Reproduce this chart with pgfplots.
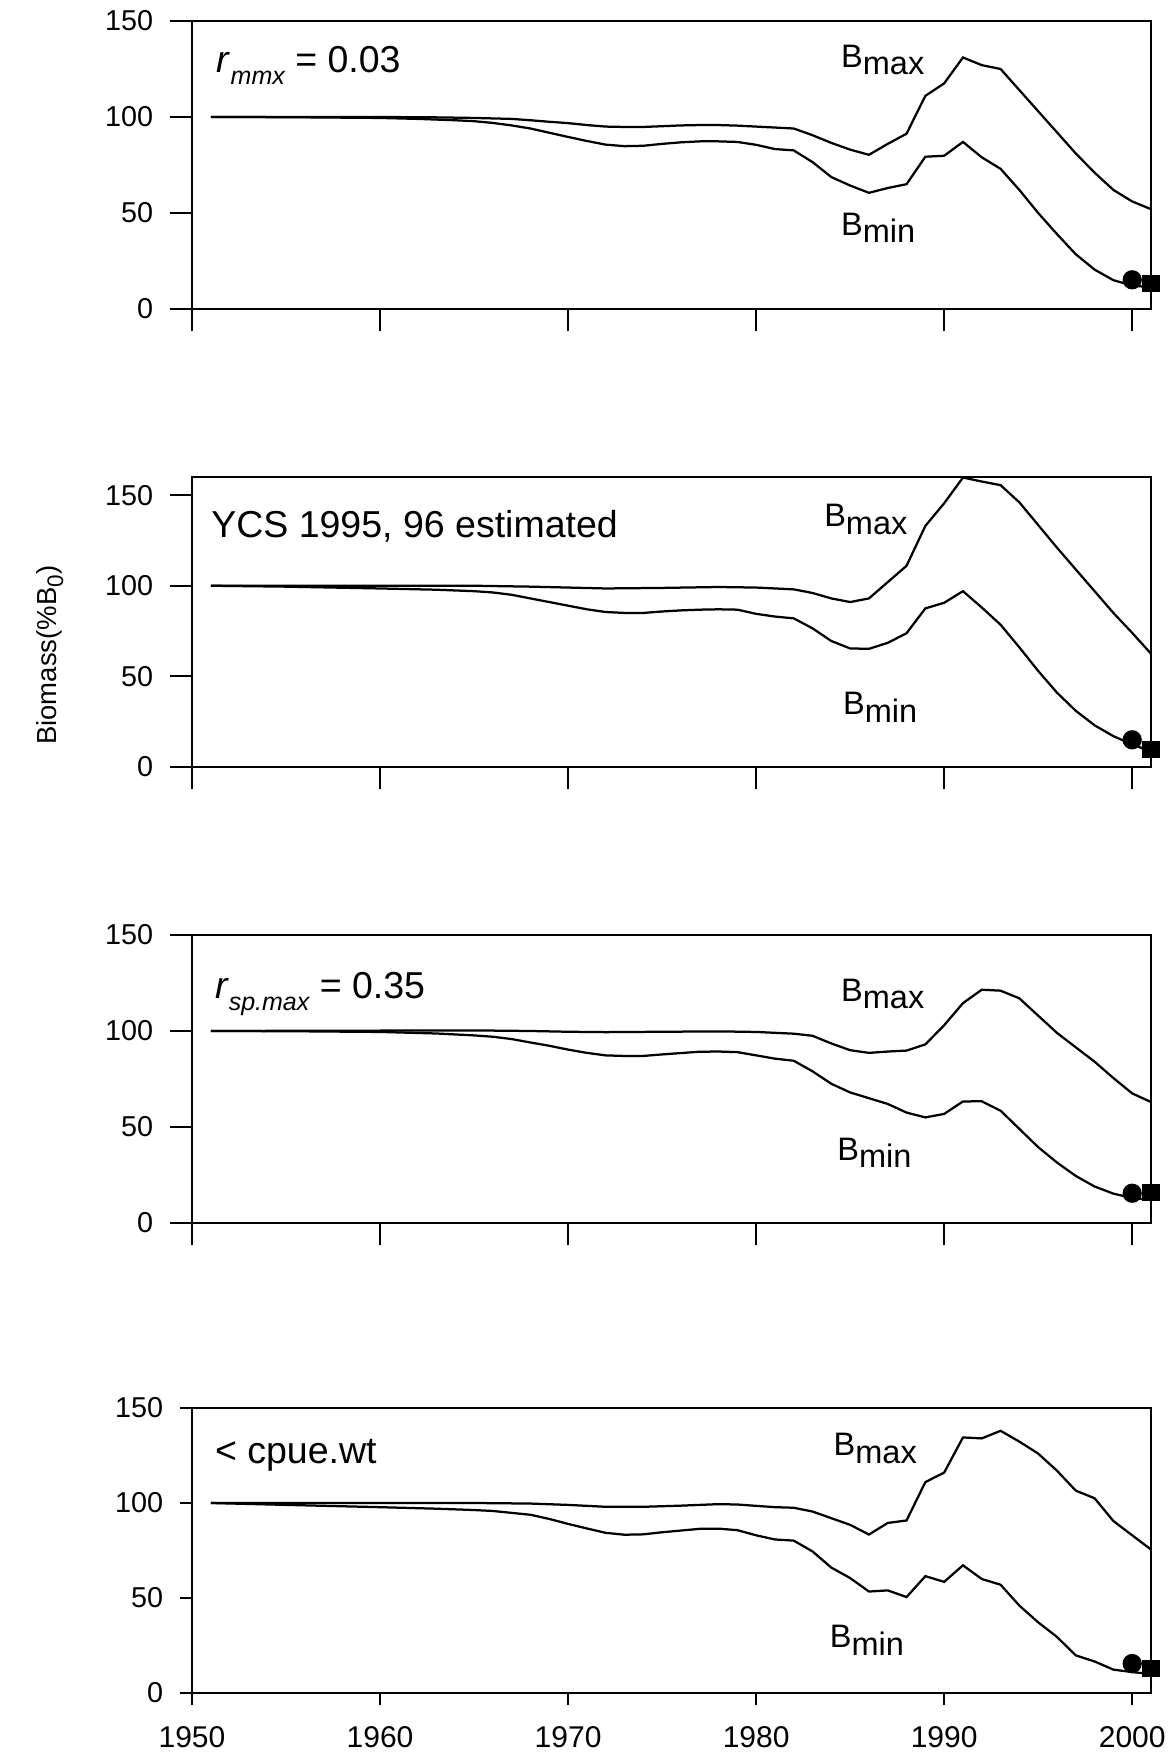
\documentclass[border=0pt]{standalone}
\usepackage{fontspec}
\setmainfont{Liberation Sans}
\usepackage{pgfplots}
\pgfplotsset{compat=1.18}

\newcommand{\Bsub}[1]{B\raisebox{-0.45ex}{#1}}
\pgfplotsset{
 panel/.style={
  scale only axis, width=383.6pt,
  xmin=1950, xmax=2001, ymin=0,
  xtick={1950,1960,1970,1980,1990,2000},
  ytick={0,50,100,150},
  xtick pos=lower, ytick pos=left,
  tick align=outside,
  major tick length=9pt,
  axis line style={line width=0.8pt},
  every tick/.style={black, line width=0.8pt},
  /pgf/number format/assume math mode=true,
  /pgf/number format/1000 sep={},
  yticklabel style={font=\fontsize{11.5}{11.5}\selectfont, xshift=-3pt},
  xticklabel style={font=\fontsize{12}{12}\selectfont, yshift=-5pt},
  clip=false,
  every axis plot/.append style={line width=0.9pt, black},
 },
}
\tikzset{
 lbl/.style={anchor=base west, inner sep=0pt, font=\fontsize{13}{13}\selectfont},
 ann/.style={anchor=base west, inner sep=0pt, font=\fontsize{15}{15}\selectfont},
}

\begin{document}
\begin{tikzpicture}
\useasboundingbox (0,0) rectangle (466.8pt,701.6pt);
\node[rotate=90, font=\fontsize{11}{11}\selectfont] at (20pt,439.5pt) {Biomass(\%B\raisebox{-0.45ex}{\fontsize{9}{9}\selectfont 0})};

% Panel 1
\begin{axis}[panel, at={(76.8pt,578pt)}, anchor=south west, height=115.2pt, ymax=150, xticklabels={}]
\addplot[no marks] table {
1951 100
1955 100
1960 100
1963 99.8
1965 99.5
1967 99
1968 98.3
1969 97.5
1970 96.8
1971 95.8
1972 95
1973 94.8
1974 94.8
1975 95.2
1976 95.6
1977 95.8
1978 95.8
1979 95.5
1980 95
1981 94.5
1982 94
1983 90.5
1984 86.5
1985 83
1986 80.3
1987 86
1988 91.3
1989 111
1990 117.5
1991 131
1992 127
1993 125
1994 114
1995 103
1996 92
1997 81
1998 71
1999 62
2000 56
2001 52
};
\addplot[no marks] table {
1951 100
1955 99.9
1960 99.5
1962 99
1964 98.3
1965 97.8
1966 96.9
1967 95.6
1968 94
1969 91.8
1970 89.6
1971 87.5
1972 85.6
1973 84.8
1974 85
1975 86
1976 86.8
1977 87.3
1978 87.3
1979 87
1980 85.5
1981 83.3
1982 82.6
1983 76.5
1984 68.7
1985 64.3
1986 60.5
1987 63
1988 65
1989 79.3
1990 79.8
1991 87
1992 79
1993 73
1994 62
1995 50
1996 39
1997 28.5
1998 20.5
1999 15
2000 12.2
2001 11.3
};
\addplot[only marks, mark=*, mark size=3.4pt] coordinates {(2000,15.2)};
\addplot[only marks, mark=square*, mark size=3pt] coordinates {(2001,13.4)};
\node[ann] at (axis cs:1951.3,123) {\textit{r}\raisebox{-0.6ex}{\fontsize{10}{10}\selectfont\itshape mmx} = 0.03};
\node[lbl] at (axis cs:1984.5,126) {\Bsub{max}};
\node[lbl] at (axis cs:1984.5,38.5) {\Bsub{min}};
\end{axis}

% Panel 2
\begin{axis}[panel, at={(76.8pt,394.8pt)}, anchor=south west, height=116pt, ymax=160, xticklabels={}]
\addplot[no marks] table {
1951 100
1960 100
1965 100
1968 99.5
1970 99
1972 98.5
1975 98.8
1978 99.3
1980 99
1982 98
1983 96
1984 93
1985 91
1986 93
1987 102
1988 111
1989 133
1990 145.5
1991 159.7
1992 157.5
1993 155.5
1994 146
1995 133.5
1996 121
1997 109
1998 97
1999 85
2000 74
2001 62.5
};
\addplot[no marks] table {
1951 100
1955 99.5
1960 98.5
1963 97.8
1965 97
1966 96.3
1967 95
1968 93
1969 91
1970 89
1971 87
1972 85.5
1973 85
1974 85
1975 85.8
1976 86.4
1977 86.8
1978 87
1979 86.8
1980 84.5
1981 83
1982 82
1983 76.5
1984 69.5
1985 65.4
1986 65.2
1987 68.5
1988 73.8
1989 87.5
1990 90.6
1991 97
1992 88
1993 78.5
1994 66
1995 53
1996 41
1997 31
1998 23
1999 17
2000 12.5
2001 8.5
};
\addplot[only marks, mark=*, mark size=3.4pt] coordinates {(2000,15)};
\addplot[only marks, mark=square*, mark size=3pt] coordinates {(2001,9.5)};
\node[ann] at (axis cs:1951,126.5) {YCS 1995, 96 estimated};
\node[lbl] at (axis cs:1983.6,132.7) {\Bsub{max}};
\node[lbl] at (axis cs:1984.6,29) {\Bsub{min}};
\end{axis}

% Panel 3
\begin{axis}[panel, at={(76.8pt,212.4pt)}, anchor=south west, height=115.2pt, ymax=150, xticklabels={}]
\addplot[no marks] table {
1951 100
1965 100.3
1968 100
1970 99.6
1972 99.4
1975 99.6
1978 99.8
1980 99.5
1982 98.6
1983 97.5
1984 93.5
1985 90
1986 88.6
1987 89.3
1988 89.8
1989 93
1990 103
1991 114.5
1992 121.5
1993 121
1994 117
1995 108
1996 99
1997 91.5
1998 84
1999 75.5
2000 67.5
2001 63
};
\addplot[no marks] table {
1951 100
1955 99.9
1960 99.5
1963 98.7
1965 97.7
1966 97
1967 95.8
1968 94
1969 92.3
1970 90.3
1971 88.6
1972 87.3
1973 87
1974 87
1975 87.8
1976 88.5
1977 89.2
1978 89.3
1979 89
1980 87.3
1981 85.6
1982 84.5
1983 79
1984 72.5
1985 68
1986 65
1987 62
1988 57.5
1989 55
1990 56.8
1991 63.3
1992 63.4
1993 58.5
1994 49
1995 39.5
1996 31.5
1997 24.5
1998 19
1999 15.3
2000 13
2001 12
};
\addplot[only marks, mark=*, mark size=3.4pt] coordinates {(2000,15.5)};
\addplot[only marks, mark=square*, mark size=3pt] coordinates {(2001,16)};
\node[ann] at (axis cs:1951.2,116.7) {\textit{r}\raisebox{-0.6ex}{\fontsize{10}{10}\selectfont\itshape sp.max} = 0.35};
\node[lbl] at (axis cs:1984.5,115.5) {\Bsub{max}};
\node[lbl] at (axis cs:1984.3,32.7) {\Bsub{min}};
\end{axis}

% Panel 4
\begin{axis}[panel, at={(76.8pt,24.4pt)}, anchor=south west, height=114pt, ymax=150, major tick length=5pt]
\addplot[no marks] table {
1951 100
1960 100
1965 100
1968 99.7
1970 99
1972 98
1974 98
1976 98.6
1978 99.4
1979 99.2
1980 98.5
1981 97.8
1982 97.5
1983 95.5
1984 92
1985 88.5
1986 83.4
1987 89.5
1988 90.8
1989 111
1990 116
1991 134.5
1992 134
1993 138
1994 132.3
1995 126
1996 117
1997 106.5
1998 102.5
1999 90.5
2000 83
2001 75.5
};
\addplot[no marks] table {
1951 100
1955 99
1960 97.8
1963 97
1965 96.3
1966 95.8
1967 94.8
1968 93.8
1969 91.6
1970 89
1971 86.6
1972 84.3
1973 83.3
1974 83.5
1975 84.6
1976 85.5
1977 86.4
1978 86.5
1979 85.7
1980 83
1981 80.8
1982 80.2
1983 74.5
1984 66
1985 60.5
1986 53.4
1987 54
1988 50.5
1989 61.5
1990 58.5
1991 67.2
1992 60
1993 57
1994 46
1995 37.2
1996 29.5
1997 19.8
1998 16.6
1999 12.3
2000 11
2001 10
};
\addplot[only marks, mark=*, mark size=3.4pt] coordinates {(2000,15.5)};
\addplot[only marks, mark=square*, mark size=3pt] coordinates {(2001,12.8)};
\node[ann] at (axis cs:1951.2,121) {< cpue.wt};
\node[lbl] at (axis cs:1984.1,125) {\Bsub{max}};
\node[lbl] at (axis cs:1983.9,24) {\Bsub{min}};
\end{axis}
\end{tikzpicture}
\end{document}
